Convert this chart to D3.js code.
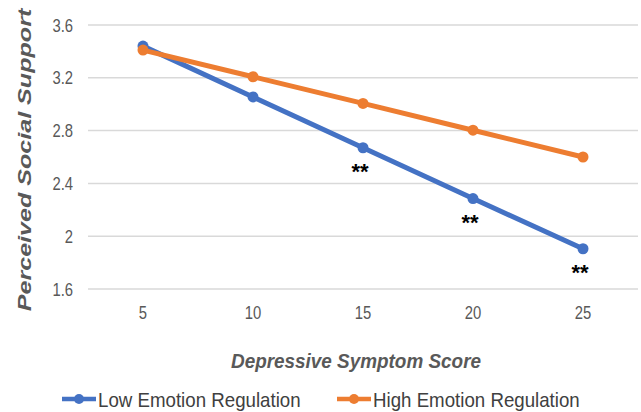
<!DOCTYPE html>
<html>
<head>
<meta charset="utf-8">
<script src="https://cdn.jsdelivr.net/npm/d3@7"></script>
<style>
  body { margin: 0; background: #fff; }
  text { font-family: "Liberation Sans", Arial, sans-serif; }
</style>
</head>
<body>
<div id="chart"></div>
<script>
let categories = [5, 10, 15, 20, 25];
let lowER = [3.44, 3.055, 2.67, 2.285, 1.905];
let highER = [3.41, 3.208, 3.006, 2.803, 2.60];
let yTicks = [1.6, 2, 2.4, 2.8, 3.2, 3.6];
let sigMarks = ['', '', '**', '**', '**'];
let seriesNames = ['Low Emotion Regulation', 'High Emotion Regulation'];

let width = 641, height = 412;
let margin = {top: 25, right: 3, bottom: 123, left: 88};

let svg = d3.select('#chart').append('svg')
  .attr('width', width).attr('height', height);

// squeeze text horizontally like the source picture
let stretch = function(sel, factor) {
  sel.each(function() {
    let w = this.getComputedTextLength();
    d3.select(this).attr('textLength', w * factor).attr('lengthAdjust', 'spacingAndGlyphs');
  });
};

let x = d3.scaleBand()
  .domain(categories)
  .range([margin.left, width - margin.right]);

let y = d3.scaleLinear()
  .domain([1.6, 3.6])
  .range([height - margin.bottom, margin.top]);

// gridlines
svg.append('g').selectAll('line')
  .data(yTicks).enter().append('line')
  .attr('x1', margin.left).attr('x2', width - margin.right)
  .attr('y1', d => y(d)).attr('y2', d => y(d))
  .style('stroke', '#d9d9d9').style('stroke-width', 1.5);

// y tick labels
let yAxis = d3.axisLeft(y).tickValues(yTicks).tickSize(0).tickPadding(15)
  .tickFormat(d => d3.format('')(d));
svg.append('g').attr('transform', 'translate(' + margin.left + ',0)')
  .call(yAxis)
  .call(g => g.select('.domain').remove())
  .selectAll('text')
  .style('font-size', '19px').style('fill', '#595959')
  .style('font-family', '"Liberation Sans", Arial, sans-serif')
  .call(stretch, 0.78);

// x tick labels
let xAxis = d3.axisBottom(x).tickSize(0).tickPadding(17);
svg.append('g').attr('transform', 'translate(0,' + (height - margin.bottom) + ')')
  .call(xAxis)
  .call(g => g.select('.domain').remove())
  .selectAll('text')
  .style('font-size', '19px').style('fill', '#595959')
  .style('font-family', '"Liberation Sans", Arial, sans-serif')
  .call(stretch, 0.78);

let cx = d => x(d) + x.bandwidth() / 2;
let series = [
  {name: seriesNames[0], values: lowER, color: '#4472C4'},
  {name: seriesNames[1], values: highER, color: '#ED7D31'}
];

let line = d3.line()
  .x((d, i) => cx(categories[i]))
  .y(d => y(d));

series.forEach(function(s) {
  svg.append('path')
    .datum(s.values)
    .attr('d', line)
    .style('fill', 'none')
    .style('stroke', s.color)
    .style('stroke-width', 5)
    .style('stroke-linejoin', 'round');

  svg.append('g').selectAll('circle')
    .data(s.values).enter().append('circle')
    .attr('cx', (d, i) => cx(categories[i]))
    .attr('cy', d => y(d))
    .attr('r', 5.5)
    .style('fill', s.color);
});

// significance markers
svg.append('g').selectAll('text')
  .data(lowER).enter().append('text')
  .attr('x', (d, i) => cx(categories[i]) - 3)
  .attr('y', d => y(d) + 31)
  .attr('text-anchor', 'middle')
  .style('font-size', '22px').style('font-weight', 'bold').style('fill', '#000')
  .text((d, i) => sigMarks[i]);

// axis titles
svg.append('text')
  .attr('x', 356).attr('y', 368)
  .attr('text-anchor', 'middle')
  .style('font-size', '21px').style('font-weight', 'bold').style('font-style', 'italic')
  .style('fill', '#595959')
  .text('Depressive Symptom Score')
  .call(stretch, 0.9);

svg.append('text')
  .attr('transform', 'translate(31,160) rotate(-90)')
  .attr('text-anchor', 'middle')
  .style('font-size', '19px').style('font-weight', 'bold').style('font-style', 'italic')
  .style('fill', '#595959')
  .text('Perceived Social Support')
  .call(stretch, 1.32);

// legend
let legendX = [62, 337];
let legend = svg.append('g').selectAll('g')
  .data(series).enter().append('g')
  .attr('transform', (d, i) => 'translate(' + legendX[i] + ',399)');
legend.append('line')
  .attr('x1', 0).attr('x2', 34).attr('y1', 0).attr('y2', 0)
  .style('stroke', d => d.color).style('stroke-width', 4.5);
legend.append('circle')
  .attr('cx', 17).attr('cy', 0).attr('r', 5)
  .style('fill', d => d.color);
legend.append('text')
  .attr('x', 36).attr('y', 8)
  .style('font-size', '21px').style('fill', '#404040')
  .text(d => d.name)
  .call(stretch, 0.89);
</script>
</body>
</html>
